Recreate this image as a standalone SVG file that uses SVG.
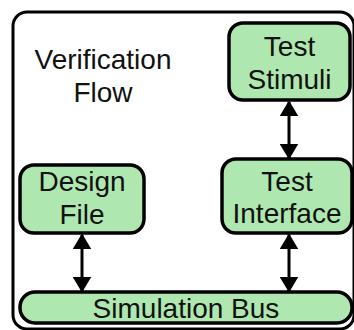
<svg xmlns="http://www.w3.org/2000/svg" width="354" height="330" viewBox="0 0 354 330">
  <defs>
    <marker id="head" viewBox="0 0 10 10" refX="9" refY="5" markerUnits="userSpaceOnUse" markerWidth="16" markerHeight="19" orient="auto-start-reverse" preserveAspectRatio="none">
      <path d="M0,0 L10,5 L0,10 Z" fill="#000"/>
    </marker>
  </defs>
  <style>
    .frame { fill: #fff; stroke: #000; stroke-width: 3; }
    .box { fill: #aee8b0; stroke: #000; stroke-width: 3.5; }
    .label { font-family: "Liberation Sans", Arial, sans-serif; font-size: 28px; fill: #111; text-anchor: middle; }
    .link { stroke: #000; stroke-width: 3; fill: none; marker-start: url(#head); marker-end: url(#head); }
  </style>

  <rect width="354" height="330" fill="#fff"/>

  <!-- enclosing frame -->
  <g id="frame">
    <rect class="frame" x="13" y="12" width="341" height="317" rx="14"/>
    <text class="label" x="103" y="69">Verification</text>
    <text class="label" x="103" y="102">Flow</text>
  </g>

  <!-- connectors -->
  <g id="connectors">
    <path class="link" d="M289,102 V158"/>
    <path class="link" d="M289,235 V291"/>
    <path class="link" d="M82,235 V291"/>
  </g>

  <g id="test-stimuli">
    <rect class="box" x="229" y="23" width="121" height="77" rx="14"/>
    <text class="label" x="289.5" y="56">Test</text>
    <text class="label" x="289.5" y="89">Stimuli</text>
  </g>

  <g id="test-interface">
    <rect class="box" x="222" y="159" width="130" height="74" rx="14"/>
    <text class="label" x="287" y="191">Test</text>
    <text class="label" x="287" y="223">Interface</text>
  </g>

  <g id="design-file">
    <rect class="box" x="20" y="165" width="124" height="68" rx="14"/>
    <text class="label" x="82" y="191">Design</text>
    <text class="label" x="82" y="224">File</text>
  </g>

  <g id="simulation-bus">
    <rect class="box" x="20" y="292" width="332" height="31" rx="15"/>
    <text class="label" x="186" y="318">Simulation Bus</text>
  </g>
</svg>
